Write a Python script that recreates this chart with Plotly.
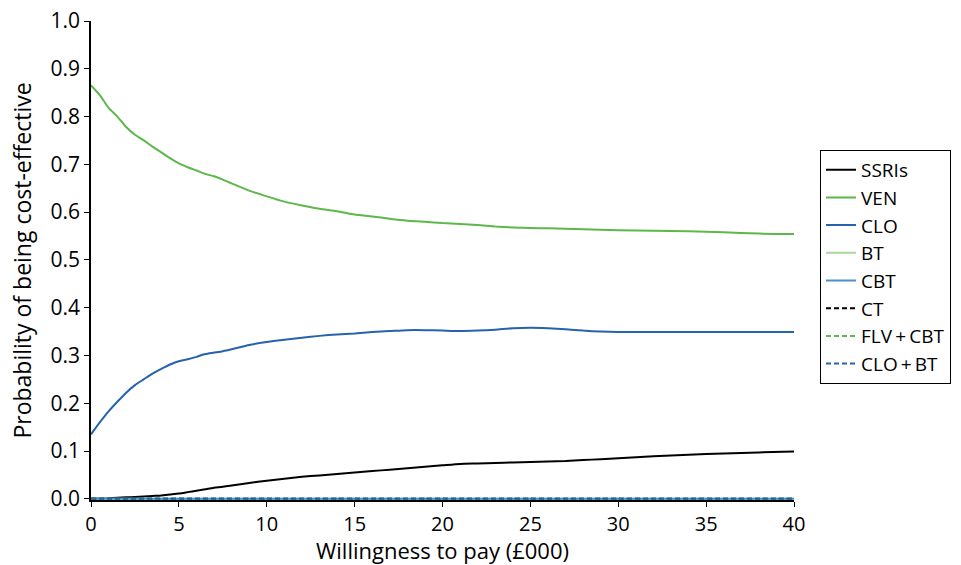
import plotly.graph_objects as go

wtp = [0, 0.5, 1, 1.5, 2, 2.5, 3, 3.5, 4, 4.5, 5, 5.5, 6, 6.5, 7, 7.5, 8, 9, 10, 11, 12, 13, 14, 15, 16, 17, 18, 19, 20, 21, 22, 23, 24, 25, 26, 27, 28, 29, 30, 32, 34, 36, 38, 40]

ssri = [0.0, 0.0005, 0.001, 0.002, 0.003, 0.004, 0.005, 0.006, 0.007, 0.009, 0.011, 0.014, 0.017, 0.020, 0.023, 0.025, 0.028, 0.033, 0.038, 0.042, 0.046, 0.049, 0.052, 0.055, 0.058, 0.061, 0.064, 0.067, 0.070, 0.073, 0.074, 0.075, 0.076, 0.077, 0.078, 0.079, 0.081, 0.083, 0.085, 0.089, 0.092, 0.095, 0.097, 0.099]

ven = [0.865, 0.845, 0.818, 0.800, 0.778, 0.762, 0.750, 0.737, 0.725, 0.713, 0.702, 0.694, 0.687, 0.680, 0.675, 0.668, 0.660, 0.645, 0.633, 0.622, 0.614, 0.607, 0.602, 0.595, 0.591, 0.586, 0.582, 0.580, 0.577, 0.575, 0.573, 0.570, 0.568, 0.567, 0.566, 0.565, 0.564, 0.563, 0.562, 0.561, 0.560, 0.558, 0.555, 0.554]

clo = [0.135, 0.160, 0.183, 0.203, 0.222, 0.238, 0.250, 0.262, 0.272, 0.281, 0.288, 0.292, 0.297, 0.303, 0.306, 0.309, 0.313, 0.322, 0.328, 0.333, 0.337, 0.341, 0.344, 0.346, 0.349, 0.351, 0.353, 0.353, 0.352, 0.351, 0.352, 0.354, 0.357, 0.358, 0.357, 0.355, 0.352, 0.350, 0.349, 0.349, 0.349, 0.349, 0.349, 0.349]

zeros = [0.0] * len(wtp)
bt = zeros
cbt = zeros
ct = zeros
flv_cbt = zeros
clo_bt = zeros

series = [
    ("SSRIs", ssri, "#000000", "solid"),
    ("VEN", ven, "#5cb84a", "solid"),
    ("CLO", clo, "#2563ae", "solid"),
    ("BT", bt, "#a6d99c", "solid"),
    ("CBT", cbt, "#4a8fd0", "solid"),
    ("CT", ct, "#000000", "5px,3px"),
    ("FLV\u2009+\u2009CBT", flv_cbt, "#5cb84a", "5px,3px"),
    ("CLO\u2009+\u2009BT", clo_bt, "#2563ae", "5px,3px"),
]

fig = go.Figure()
for i, (name, vals, color, dash) in enumerate(series):
    fig.add_trace(go.Scatter(
        x=wtp, y=vals, name=name, mode="lines",
        line=dict(color=color, width=2, dash=dash, shape="spline", smoothing=0.6),
    ))

font_family = "Open Sans, Liberation Sans, sans-serif"

fig.update_layout(
    width=961, height=565,
    margin=dict(l=91, r=167, t=21, b=65, autoexpand=False),
    plot_bgcolor="white", paper_bgcolor="white",
    font=dict(family=font_family, size=19, color="black"),
    showlegend=True,
    legend=dict(
        x=1.037, y=0.731, xanchor="left", yanchor="top",
        bordercolor="black", borderwidth=1,
        font=dict(size=19), itemwidth=30,
        bgcolor="white",
    ),
    xaxis=dict(
        range=[0, 40], tickvals=[0, 5, 10, 15, 20, 25, 30, 35, 40],
        showline=True, linecolor="black", linewidth=1.5,
        ticks="outside", ticklen=5, tickcolor="black",
        showgrid=False, zeroline=False, automargin=False, layer="below traces",
        title=dict(text="Willingness to pay (£000)", standoff=9, font=dict(size=22)),
        tickfont=dict(size=20),
    ),
    yaxis=dict(
        range=[-0.0025, 1.0], tickvals=[0, 0.1, 0.2, 0.3, 0.4, 0.5, 0.6, 0.7, 0.8, 0.9, 1.0],
        tickformat=".1f",
        showline=True, linecolor="black", linewidth=1.5,
        ticks="outside", ticklen=5, tickcolor="black",
        showgrid=False, zeroline=False, automargin=False, layer="below traces",
        title=dict(text="Probability of being cost-effective", standoff=12, font=dict(size=23)),
        tickfont=dict(size=21),
    ),
)

fig.write_html(
    "out.html",
    config={"displayModeBar": False},
    post_script="document.body.style.margin='0';document.body.style.overflow='hidden';",
)
